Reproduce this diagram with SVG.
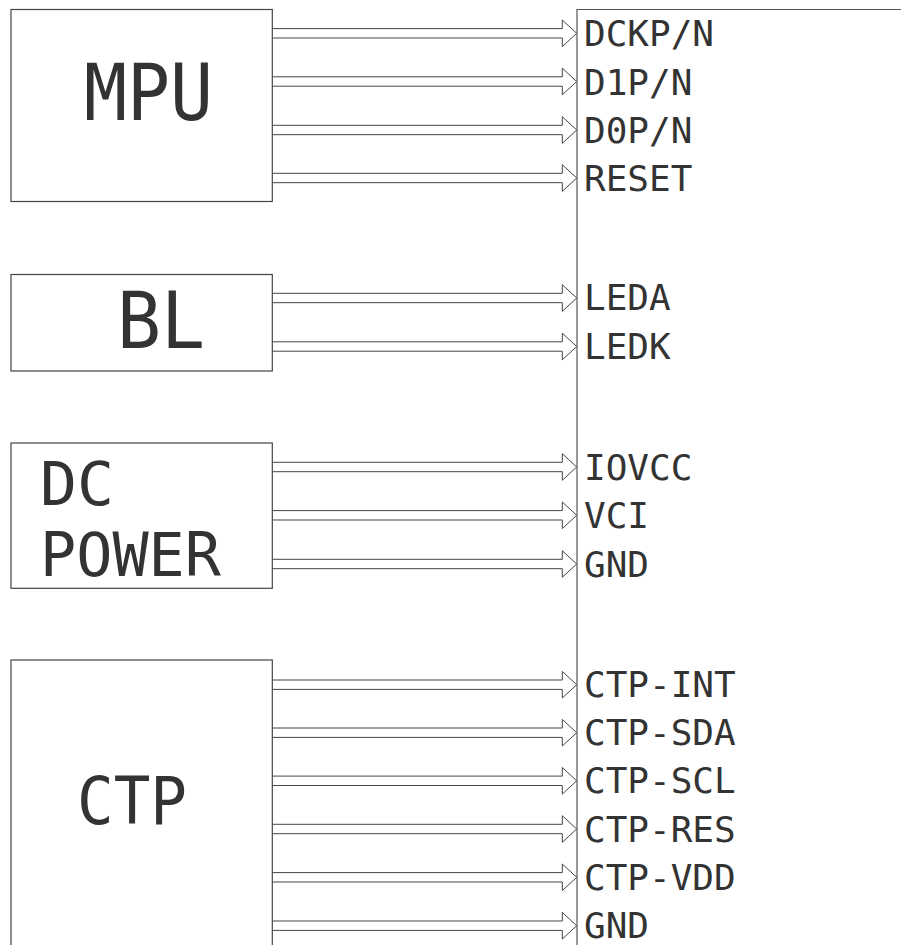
<svg xmlns="http://www.w3.org/2000/svg" width="901" height="945" viewBox="0 0 901 945">
<defs>
<style>
.box{fill:#fff;stroke:#444;stroke-width:1.2}
.title{font-family:"DejaVu Sans Mono",monospace;fill:#333}
.lbl{font-family:"DejaVu Sans Mono",monospace;font-size:36px;fill:#333}
.arr{fill:#fff;stroke:#444;stroke-width:1}
.panel{fill:none;stroke:#555;stroke-width:1.2}
</style>
<path id="a" class="arr" d="M0,-4.7 H290 V-13.3 L304.4,0 L290,13.3 V4.7 H0"/>
</defs>
<rect width="901" height="945" fill="#fff"/>
<g id="panel">
<path class="panel" d="M901,9.5 H577 V945"/>
</g>
<g id="connectors">
<use href="#a" x="272.3" y="33.3"/>
<use href="#a" x="272.3" y="81.5"/>
<use href="#a" x="272.3" y="130"/>
<use href="#a" x="272.3" y="178"/>
<use href="#a" x="272.3" y="298"/>
<use href="#a" x="272.3" y="346.5"/>
<use href="#a" x="272.3" y="467"/>
<use href="#a" x="272.3" y="515.3"/>
<use href="#a" x="272.3" y="564"/>
<use href="#a" x="272.3" y="684.7"/>
<use href="#a" x="272.3" y="732.7"/>
<use href="#a" x="272.3" y="780.8"/>
<use href="#a" x="272.3" y="829"/>
<use href="#a" x="272.3" y="877.3"/>
<use href="#a" x="272.3" y="925.7"/>
</g>
<g id="mpu">
<rect class="box" x="11" y="9.5" width="261.3" height="192"/>
<text class="title" x="84" y="120" font-size="78" textLength="129" lengthAdjust="spacingAndGlyphs">MPU</text>
</g>
<g id="bl">
<rect class="box" x="11" y="274.5" width="261.3" height="96.5"/>
<text class="title" x="117" y="348.3" font-size="78" textLength="88" lengthAdjust="spacingAndGlyphs">BL</text>
</g>
<g id="dcpower">
<rect class="box" x="11" y="443" width="261.3" height="145.3"/>
<text class="title" x="40" y="505" font-size="60" textLength="74" lengthAdjust="spacingAndGlyphs">DC</text>
<text class="title" x="40" y="575.5" font-size="60" textLength="181" lengthAdjust="spacingAndGlyphs">POWER</text>
</g>
<g id="ctp">
<rect class="box" x="11" y="660" width="261.3" height="300"/>
<text class="title" x="77" y="824" font-size="65" textLength="110" lengthAdjust="spacingAndGlyphs">CTP</text>
</g>
<g id="labels">
<text class="lbl" x="584" y="46.3">DCKP/N</text>
<text class="lbl" x="584" y="94.5">D1P/N</text>
<text class="lbl" x="584" y="143">D0P/N</text>
<text class="lbl" x="584" y="191">RESET</text>
<text class="lbl" x="584" y="310">LEDA</text>
<text class="lbl" x="584" y="358.5">LEDK</text>
<text class="lbl" x="584" y="479.5">IOVCC</text>
<text class="lbl" x="584" y="527.8">VCI</text>
<text class="lbl" x="584" y="576.5">GND</text>
<text class="lbl" x="584" y="697.2">CTP-INT</text>
<text class="lbl" x="584" y="745.2">CTP-SDA</text>
<text class="lbl" x="584" y="793.3">CTP-SCL</text>
<text class="lbl" x="584" y="841.5">CTP-RES</text>
<text class="lbl" x="584" y="889.8">CTP-VDD</text>
<text class="lbl" x="584" y="938.2">GND</text>
</g>
</svg>
